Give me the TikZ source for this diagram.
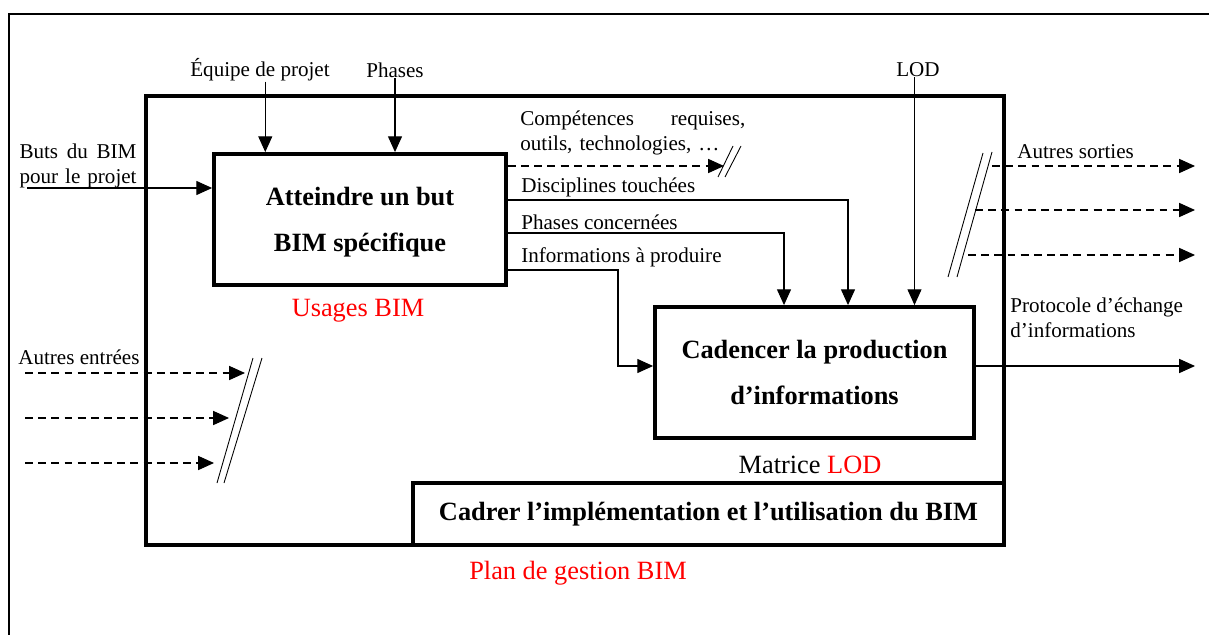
\documentclass[tikz,border=0pt]{standalone}
\usepackage{color}
\usepackage{fontspec}
\setmainfont{Liberation Serif}
\usetikzlibrary{arrows.meta}

\begin{document}
\begin{tikzpicture}[x=0.02cm,y=-0.02cm,
  >={Triangle[length=9pt,width=8pt]},
  boite/.style={draw,rectangle,line width=2.2pt,fill=white,inner sep=0pt,align=center,text depth=0pt,font=\bfseries\fontsize{15}{26}\selectfont},
  etiq/.style={font=\fontsize{12}{14}\selectfont,inner sep=0pt},
  titre/.style={font=\fontsize{15}{18}\selectfont,text=red,inner sep=0pt},
  fleche/.style={line width=0.6pt,->},
  tiret/.style={line width=0.6pt,->,dash pattern=on 4.5pt off 3pt},
  barre/.style={line width=0.5pt}]
\useasboundingbox (0,0) rectangle (1209,635);
%cadre general et plan de gestion
\draw [line width=1.4pt] (1209,14) -- (9,14) -- (9,635);
\draw [line width=2.2pt] (146,96) rectangle (1004,545);

\node [boite,minimum width=5.84cm,minimum height=2.62cm] (atteindre) at(360,219.5){Atteindre un but\\BIM spécifique};
\node [boite,minimum width=6.38cm,minimum height=2.62cm] (cadencer) at(814.5,372.5){Cadencer la production\\d’informations};
\node [boite,minimum width=11.82cm,minimum height=1.24cm,text depth=] (cadrer) at(708.5,514){Cadrer l’implémentation et l’utilisation du BIM};

\node [titre] (usages) at(358,311){Usages BIM};
\node [titre,text=black] (matrice) at(810,465){Matrice \textcolor{red}{LOD}};
\node [titre] (plan) at(578,573){Plan de gestion BIM};

%entrees et controles
\node [etiq] (equipe) at(260,70){Équipe de projet};
\node [etiq] (phases) at(395,70){Phases};
\node [etiq] (lod) at(918,70){LOD};
\node [etiq,text width=2.34cm,align=left] (buts) at(78,166){Buts \hfill du \hfill BIM\\\mbox{pour le projet}};
\node [etiq,anchor=west] (autresE) at(18,357){Autres entrées};

%sorties
\node [etiq,anchor=west,text width=4.5cm,align=left] (competences) at(520,133){Compétences \hfill requises,\\outils, technologies, …};
\node [etiq,anchor=west] (disciplines) at(521,187){Disciplines touchées};
\node [etiq,anchor=west] (concernees) at(521,222){Phases concernées};
\node [etiq,anchor=west] (informations) at(521,257){Informations à produire};
\node [etiq,anchor=west] (autresS) at(1017,152){Autres sorties};
\node [etiq,anchor=west,align=left] (protocole) at(1010,318){Protocole d’échange\\d’informations};

\coordinate (butsdep) at(27,188);
\coordinate (compfin) at(724,166);
\coordinate (disc) at(848,200);
\coordinate (conc) at(784,233);
\coordinate (info) at(618,270);
\coordinate (infoin) at(618,366);
\coordinate (protofin) at(1195,366);

\draw[fleche]([xshift=3pt]equipe.south) -- ([xshift=3pt]equipe.south |- atteindre.north);
\draw[fleche](phases.south) -- (phases.south |- atteindre.north);
\draw[fleche]([xshift=-2pt]lod.south) -- ([xshift=-2pt]lod.south |- cadencer.north);
\draw[fleche](butsdep) -- (butsdep -| atteindre.west);
\draw[tiret](compfin -| atteindre.east) -- (compfin);
\draw[barre] (718,177) -- (733,146) (725,177) -- (741,146);
\draw[fleche](disc -| atteindre.east) -| (disc |- cadencer.north);
\draw[fleche](conc -| atteindre.east) -| (conc |- cadencer.north);
\draw[fleche](info -| atteindre.east) -- (info) -- (infoin) -- (infoin -| cadencer.west);
\draw[fleche](protofin -| cadencer.east) -- (protofin);

%autres sorties
\foreach \ya/\xa in {166/992,210/975,255/968}
  \draw[tiret] (\xa,\ya) -- (1195,\ya);
\draw[barre] (948,277) -- (983,153) (957,277) -- (992,152);

%autres entrees
\foreach \ya/\xa in {373/245,418/229,463/214}
  \draw[tiret] (25,\ya) -- (\xa,\ya);
\draw[barre] (217,483) -- (253,358) (224,483) -- (262,358);

\end{tikzpicture}
\end{document}
